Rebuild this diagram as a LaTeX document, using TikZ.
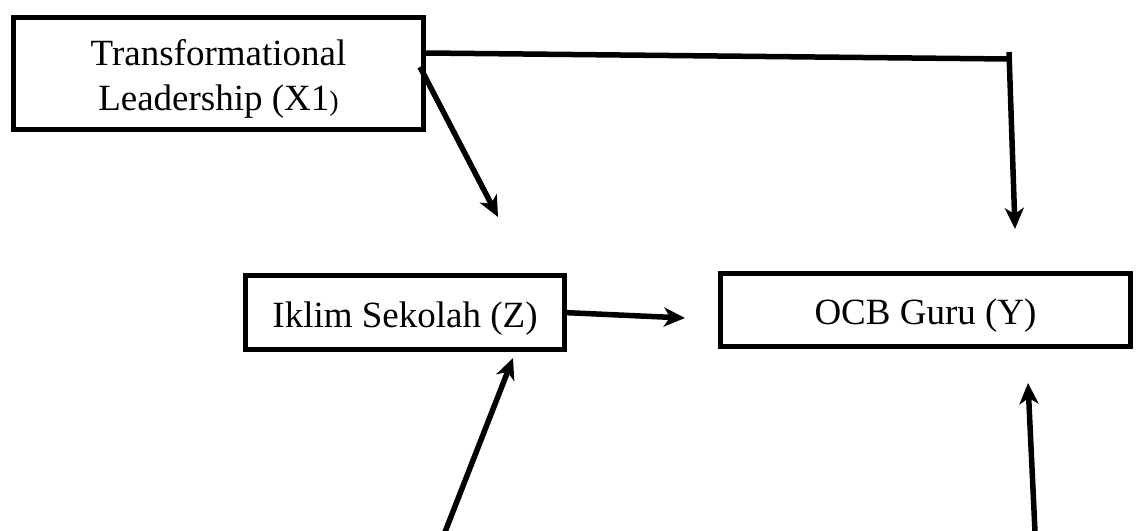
\documentclass[tikz,border=0pt]{standalone}
\usepackage{fontspec}
\setmainfont{Liberation Serif}
\usetikzlibrary{arrows.meta}
\begin{document}
\begin{tikzpicture}[x=1pt,y=-1pt,
  varbox/.style={draw=black,line width=5.5pt,fill=white,inner sep=0pt,
    font=\fontsize{37}{45}\selectfont,align=center},
  link/.style={draw=black,line width=5.5pt},
  arr/.style={link,-{Stealth[length=21pt,width=19pt,inset=6pt]}}]
\useasboundingbox (0,0) rectangle (1139,530);

% variables
\node[varbox,minimum width=410pt,minimum height=112pt] (X1) at (218.5,73.5)
  {\rule{0pt}{36pt}Transformational\\Leadership (X1{\fontsize{28}{30}\selectfont)}};
\node[varbox,minimum width=319pt,minimum height=74pt,text height=30pt,text depth=1pt]
  (Z) at (405,312.5) {Iklim Sekolah (Z)};
\node[varbox,minimum width=410pt,minimum height=73pt,text height=29pt,text depth=1pt]
  (Y) at (925.5,310) {OCB Guru (Y)};

% free ends of the paths
\coordinate (xzS) at (420,67);
\coordinate (xzE) at (498,217);
\coordinate (xyS) at (426,53);
\coordinate (xyC) at (1009,59);
\coordinate (xyT) at (1009,52);
\coordinate (xyE) at (1015,229);
\coordinate (zyE) at (685,318);
\coordinate (lbS) at (445,532);
\coordinate (lbE) at (513,358);
\coordinate (rbS) at (1035,532);
\coordinate (rbE) at (1028,383);

% paths
\draw[arr] (xzS) -- (xzE);
\draw[link] (xyS) -- (xyC);
\draw[arr] (xyT) -- (xyE);
\draw[arr] (Z.east) ++(-4,0) -- (zyE);
\draw[arr] (lbS) -- (lbE);
\draw[arr] (rbS) -- (rbE);
\end{tikzpicture}
\end{document}
